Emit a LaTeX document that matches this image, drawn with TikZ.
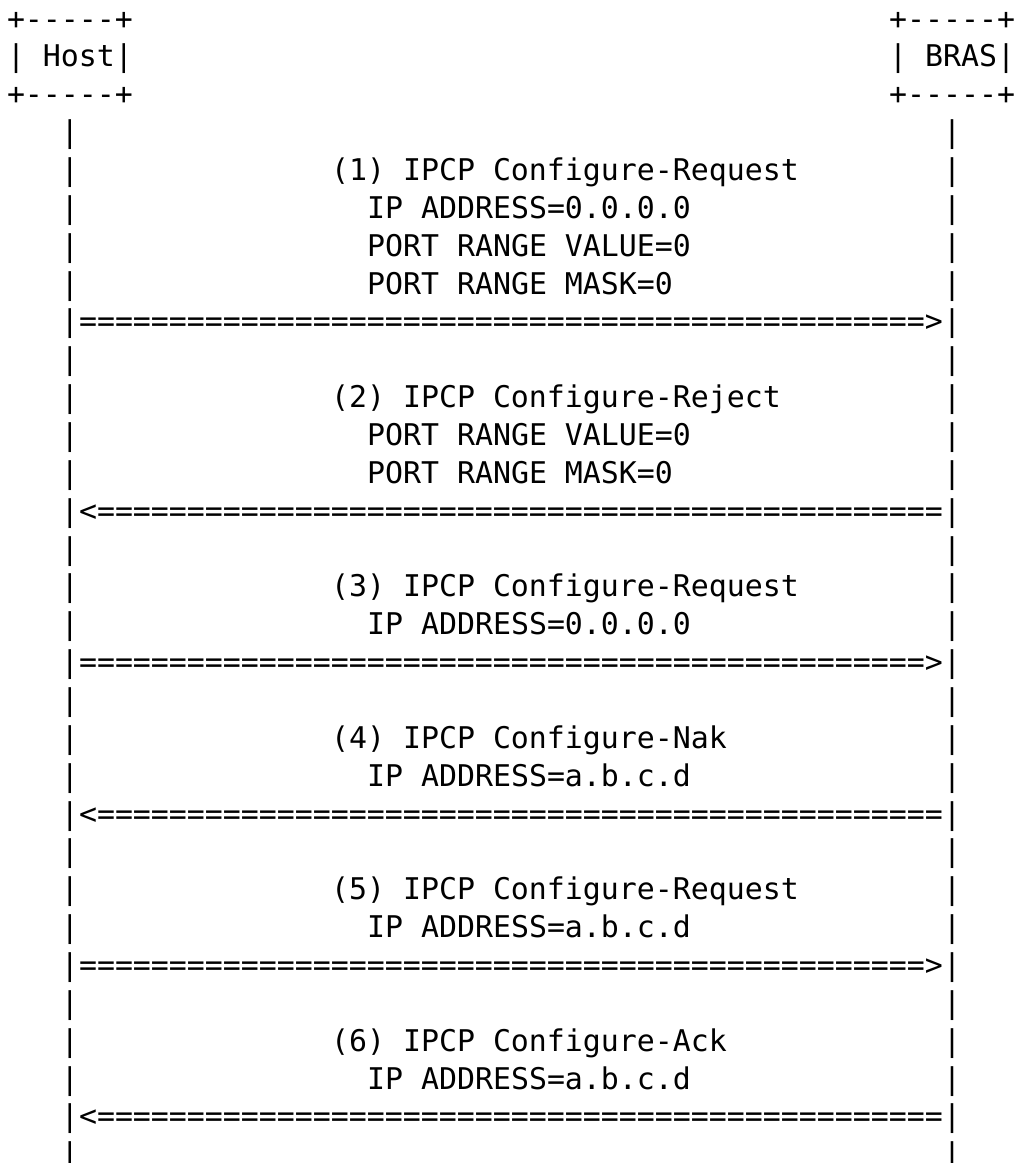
\documentclass[tikz,border=0pt]{standalone}
\usepackage{fontspec}
\setmonofont{DejaVu Sans Mono}
\newcommand\putcell[4]{\node[mono] (#1) at ({7+18*(#2)},{29+37.86*((#3)-1)}) {#4};}
\newcommand\eqline{===============================================}
\begin{document}
\begin{tikzpicture}[x=0.5pt,y=-0.5pt,
  mono/.style={font=\ttfamily\fontsize{14.95}{18}\selectfont, inner sep=0pt, outer sep=0pt, anchor=base west, text=black}]
\fill[white] (0,0) rectangle (1017,1163);
\useasboundingbox (0,0) rectangle (1017,1163);
% boxes
\putcell{hostT}{0}{1}{+-----+}
\putcell{host}{0}{2}{| Host|}
\putcell{hostB}{0}{3}{+-----+}
\putcell{brasT}{49}{1}{+-----+}
\putcell{bras}{49}{2}{| BRAS|}
\putcell{brasB}{49}{3}{+-----+}
% lifelines
\foreach \r in {4,...,31}{
  \putcell{hl\r}{3}{\r}{|}
  \putcell{bl\r}{52}{\r}{|}
}
% message 1
\putcell{m1}{18}{5}{(1) IPCP Configure-Request}
\putcell{m1a}{20}{6}{IP ADDRESS=0.0.0.0}
\putcell{m1b}{20}{7}{PORT RANGE VALUE=0}
\putcell{m1c}{20}{8}{PORT RANGE MASK=0}
\putcell{a1}{4}{9}{\eqline>}
% message 2
\putcell{m2}{18}{11}{(2) IPCP Configure-Reject}
\putcell{m2a}{20}{12}{PORT RANGE VALUE=0}
\putcell{m2b}{20}{13}{PORT RANGE MASK=0}
\putcell{a2}{4}{14}{<\eqline}
% message 3
\putcell{m3}{18}{16}{(3) IPCP Configure-Request}
\putcell{m3a}{20}{17}{IP ADDRESS=0.0.0.0}
\putcell{a3}{4}{18}{\eqline>}
% message 4
\putcell{m4}{18}{20}{(4) IPCP Configure-Nak}
\putcell{m4a}{20}{21}{IP ADDRESS=a.b.c.d}
\putcell{a4}{4}{22}{<\eqline}
% message 5
\putcell{m5}{18}{24}{(5) IPCP Configure-Request}
\putcell{m5a}{20}{25}{IP ADDRESS=a.b.c.d}
\putcell{a5}{4}{26}{\eqline>}
% message 6
\putcell{m6}{18}{28}{(6) IPCP Configure-Ack}
\putcell{m6a}{20}{29}{IP ADDRESS=a.b.c.d}
\putcell{a6}{4}{30}{<\eqline}
\end{tikzpicture}
\end{document}
